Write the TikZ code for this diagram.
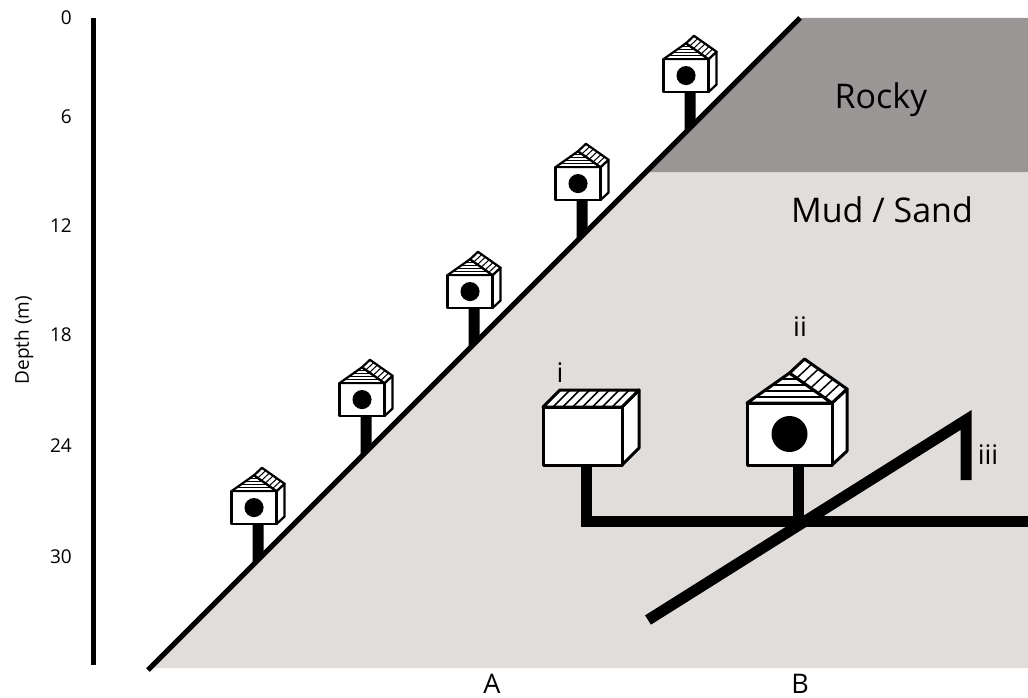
\documentclass[tikz,border=0pt]{standalone}
\usepackage{fontspec}
\setmainfont{Open Sans}
\usetikzlibrary{calc}
\definecolor{rock}{RGB}{154,150,150}
\definecolor{mud}{RGB}{224,221,219}
\tikzset{
  axlbl/.style={inner sep=0pt, font=\fontsize{19}{22}\selectfont},
  bigtxt/.style={inner sep=0pt, font=\fontsize{34}{40}\selectfont},
  siteltr/.style={inner sep=0pt, anchor=base, font=\fontsize{27}{30}\selectfont},
  tag/.style={inner sep=0pt, font=\fontsize{27}{30}\selectfont},
  pipe/.style={line width=11, line join=miter},
}
% bird house: #1,#2 = bottom-left corner of the front face, #3 = scale,
% #4 = outline width, #5 = stripe width
\newcommand\birdhouse[5]{%
  \begin{scope}[shift={(#1,#2)}, scale=#3, line width=#4, line join=round]
    \filldraw[fill=white] (85,0) -- (100,-14) -- (100,-76) -- (85,-62) -- cycle;
    \filldraw[fill=white] (0,0) rectangle (85,-62);
    \filldraw[fill=white] (0,-62) -- (42.5,-92) -- (85,-62) -- cycle;
    \begin{scope}
      \clip (0,-62) -- (42.5,-92) -- (85,-62) -- cycle;
      \foreach \h in {68,74,80,86} \draw[line width=#5] (0,-\h) -- (85,-\h);
    \end{scope}
    \filldraw[fill=white] (42.5,-92) -- (57.5,-106) -- (100,-76) -- (85,-62) -- cycle;
    \foreach \t in {0.17,0.33,0.5,0.67,0.83}
      \draw[line width=#5] ($(42.5,-92)!\t!(85,-62)$) -- ++(15,-14);
    \fill (42.5,-31) circle (18);
  \end{scope}}
% plain box with a striped lid
\newcommand\stripebox[2]{%
  \begin{scope}[shift={(#1,#2)}, line width=3, line join=round]
    \filldraw[fill=white] (79,0) -- (96,-17) -- (96,-75) -- (79,-58) -- cycle;
    \filldraw[fill=white] (0,0) rectangle (79,-58);
    \filldraw[fill=white] (0,-58) -- (17,-75) -- (96,-75) -- (79,-58) -- cycle;
    \foreach \k in {1,...,7}
      \draw[line width=1.6] ({\k*79/8},-58) -- ++(17,-17);
  \end{scope}}
\begin{document}
\begin{tikzpicture}[x=1pt, y=-1pt]
  \useasboundingbox[fill=white] (0,0) rectangle (1028,698);

  % sea bed zones
  \fill[mud]  (150,668) -- (646,172) -- (1028,172) -- (1028,668) -- cycle;
  \fill[rock] (646,172) -- (800,18) -- (1028,18) -- (1028,172) -- cycle;

  % posts of the houses along the slope
  \foreach \k in {0,...,4} {
    \pgfmathsetmacro\px{258+108*\k}
    \pgfmathsetmacro\py{524-108*\k}
    \pgfmathsetmacro\pf{668-(\px-150)}
    \coordinate (top\k) at (\px,\py);
    \coordinate (foot\k) at (\px,\pf);
    \fill (\px-5.5,\py) -- (\px+5.5,\py) -- (\px+5.5,\pf-5.5) -- (\px-5.5,\pf+5.5) -- cycle;
  }

  % slope
  \coordinate (slopeA) at (148,670);
  \coordinate (slopeB) at (800,18);
  \draw[line width=5] (slopeA) -- (slopeB);

  \foreach \k in {0,...,4} {
    \pgfmathsetmacro\px{258+108*\k}
    \pgfmathsetmacro\py{524-108*\k}
    \birdhouse{\px-26.5}{\py}{0.53}{2.2}{1}
  }

  % structures i, ii, iii
  \coordinate (postI) at (586,465);
  \coordinate (postII) at (798,465);
  \coordinate (barEnd) at (1028,521);
  \coordinate (cross) at (586,521);
  \coordinate (junct) at (798,521);
  \draw[pipe] (postI) -- (cross) -- (barEnd);
  \draw[pipe] (postII) -- (junct);
  \coordinate (diagA) at (648,620);
  \coordinate (diagB) at (966,420);
  \coordinate (diagC) at (966,480);
  \draw[pipe] (diagA) -- (diagB) -- (diagC);

  \stripebox{543}{465}
  \birdhouse{747}{465}{1}{3}{1.5}

  \node[tag] (li) at (560,373) {i};
  \node[tag] (lii) at (800,327) {ii};
  \node[tag] (liii) at (988,455) {iii};

  \node[bigtxt] (rocky) at (881,100) {Rocky};
  \node[bigtxt] (mudsand) at (882,210) {Mud / Sand};

  \node[siteltr] (A) at (492,693) {A};
  \node[siteltr] (B) at (800,693) {B};

  % depth axis
  \coordinate (axTop) at (93,18);
  \coordinate (axBot) at (93,665);
  \draw[line width=5] (axTop) -- (axBot);
  \foreach \v/\y in {0/18,6/117,12/226,18/335,24/446,30/557}
    \node[axlbl, anchor=east] (d\v) at (72,\y) {\v};
  \node[axlbl, rotate=90] (depth) at (24,340) {Depth (m)};
\end{tikzpicture}
\end{document}
